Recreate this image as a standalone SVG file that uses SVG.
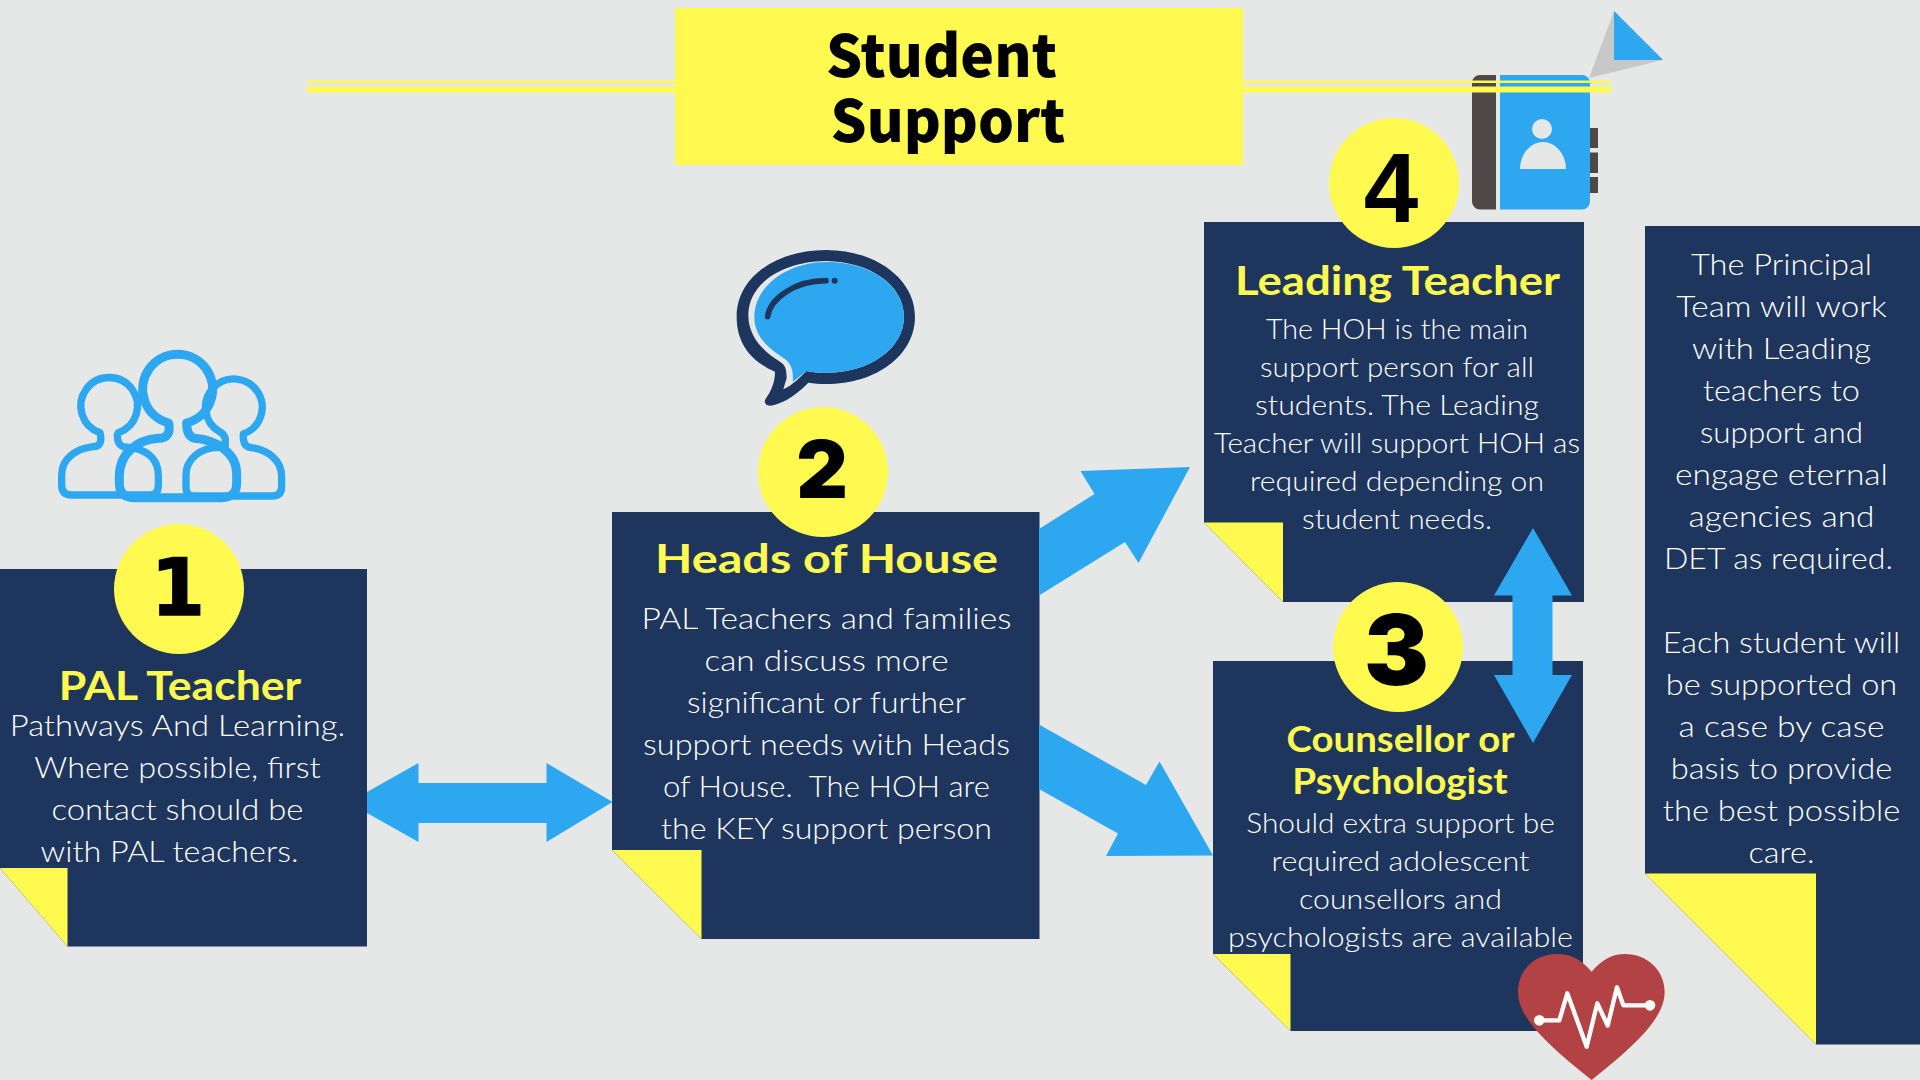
<svg xmlns="http://www.w3.org/2000/svg" width="1920" height="1080" viewBox="0 0 1920 1080">
<style>
.navy{fill:#1e365d}.yel{fill:#fff950}.blue{fill:#2ca7f0}
text{text-anchor:middle;font-family:"Lato","Liberation Sans",sans-serif}
.b{fill:#fff;font-size:30px;font-weight:300}
.s{fill:#fff;font-size:27.5px;font-weight:300}
.h{fill:#fff950;font-size:41px;font-weight:700}
.h2{fill:#fff950;font-size:35.5px;font-weight:700}
.n{fill:#000;font-family:"DejaVu Sans",sans-serif;font-weight:700;font-size:78px;stroke:#000;stroke-width:1.5px}
.n4{fill:#000;font-family:"Liberation Sans",sans-serif;font-weight:700;font-size:98px}
.m{fill:#000;font-family:"Inter",sans-serif;font-weight:900}
.t{fill:#000;font-family:"Noto Sans CJK SC",sans-serif;font-weight:900;font-size:58px}
.ic{fill:none;stroke:#2ca7f0;stroke-width:22;stroke-linecap:round;stroke-linejoin:round}
</style>
<rect width="1920" height="1080" fill="#e6e8e8"/>

<g id="flag-icon">
<polygon points="1614,11 1589,78 1663,60" fill="#c8c8c8"/>
<polygon class="blue" points="1614,11 1614,60 1663,60"/>
</g>
<g id="book-icon">
<path fill="#4f4848" d="M1496,75H1480a8,8 0 0 0 -8,8V201a8,8 0 0 0 8,8.500H1496Z"/>
<path class="blue" d="M1500,75H1582a8,8 0 0 1 8,8V201a8,8 0 0 1 -8,8.500H1500Z"/>
<rect x="1590" y="128" width="8" height="20" fill="#4f4848"/>
<rect x="1590" y="152.500" width="8" height="20.500" fill="#4f4848"/>
<rect x="1590" y="177" width="8" height="16" fill="#4f4848"/>
<circle cx="1542" cy="129" r="10" fill="#e6e8e8"/>
<path fill="#e6e8e8" d="M1520,169a23,27 0 0 1 46,0Z"/>
</g>

<g id="title-rules">
<rect class="yel" x="307" y="80.500" width="1304" height="2.500"/>
<rect class="yel" x="307" y="86.500" width="1304" height="6"/>
</g>
<g id="title">
<rect class="yel" x="675" y="8" width="568" height="157"/>
<text class="t" x="941.500" y="76.500" textLength="231" lengthAdjust="spacingAndGlyphs">Student</text>
<text class="t" x="948" y="141.500" textLength="235" lengthAdjust="spacingAndGlyphs">Support</text>
</g>

<g id="people-icon" transform="translate(40,330) scale(.3333)">
<path class="ic" d="M235,308A85,85 0 1 0 180,308Q190,350 160,350C110,355 65,385 65,435V465Q65,495 95,495H330Q355,495 355,465V435C355,395 330,365 285,355L250,350Q232,345 232,315Z"/>
<path class="ic" d="M556,345V325Q550,310 540,306A85,85 0 1 1 610,312Q608,350 630,352C685,360 725,390 725,440V470Q725,498 695,498H460Q438,498 438,470V435C438,390 480,350 540,352"/>
<path class="ic" style="stroke-width:27" d="M440,279A105,105 0 1 0 386,279Q395,325 355,325C290,330 238,370 238,440V460Q238,503 285,503H545Q590,503 590,460V430C590,370 530,330 465,325Q440,320 440,279Z"/>
</g>

<g id="speech-icon" transform="translate(720,230) scale(.3333)">
<path class="navy" d="M165,425C60,380 50,300 50,260C50,140 170,60 318,60C465,60 585,145 585,260C585,375 470,462 318,462C300,462 280,460 265,458C220,505 175,525 150,527C135,527 130,515 138,505C155,480 165,455 165,425Z"/>
<path fill="#e6e8e8" d="M318,93C180,95 85,165 85,255C85,320 130,365 180,395C195,405 200,415 200,445L190,478C220,465 240,440 260,423C280,428 300,428 318,428C450,428 552,355 552,260C552,165 450,95 318,93Z"/>
<path class="blue" d="M320,96C200,96 103,170 103,262C103,310 135,350 185,380C210,395 222,415 218,455L260,423C280,428 300,428 318,428C450,428 552,355 552,260C552,165 450,96 320,96Z"/>
<path fill="none" stroke="#1e365d" stroke-width="17" stroke-linecap="round" d="M143,260C150,205 225,152 318,152"/>
<circle class="navy" cx="344" cy="152" r="9"/>
</g>

<g id="node-1">
<polygon class="navy" points="0,569 367,569 367,946.500 67.500,946.500 0,868"/>
<polygon class="yel" points="0,868 67.500,868 67.500,946.500"/>
<text class="h" x="180" y="700" textLength="242.500" lengthAdjust="spacingAndGlyphs">PAL Teacher</text>
<text class="b" x="177.500" y="736" textLength="335.500" lengthAdjust="spacingAndGlyphs">Pathways And Learning.</text>
<text class="b" x="177.500" y="778" textLength="286.500" lengthAdjust="spacingAndGlyphs">Where possible, first</text>
<text class="b" x="177.500" y="820" textLength="252" lengthAdjust="spacingAndGlyphs">contact should be</text>
<text class="b" x="169.500" y="862" textLength="258" lengthAdjust="spacingAndGlyphs">with PAL teachers.</text>
</g>

<g id="node-2">
<polygon class="navy" points="612,512 1039.500,512 1039.500,939 701.500,939 612,850"/>
<polygon class="yel" points="612,850 701.500,850 701.500,939"/>
<text class="h" x="826.500" y="573" textLength="343" lengthAdjust="spacingAndGlyphs">Heads of House</text>
<text class="b" x="826.500" y="628.500" textLength="370" lengthAdjust="spacingAndGlyphs">PAL Teachers and families</text>
<text class="b" x="826.500" y="670.500" textLength="244" lengthAdjust="spacingAndGlyphs">can discuss more</text>
<text class="b" x="826.500" y="713" textLength="279" lengthAdjust="spacingAndGlyphs">significant or further</text>
<text class="b" x="826.500" y="755" textLength="367" lengthAdjust="spacingAndGlyphs">support needs with Heads</text>
<text class="b" x="826.500" y="797" textLength="327" lengthAdjust="spacingAndGlyphs" xml:space="preserve">of House.  The HOH are</text>
<text class="b" x="826.500" y="839" textLength="331" lengthAdjust="spacingAndGlyphs">the KEY support person</text>
</g>

<g id="node-4">
<polygon class="navy" points="1204,222 1584,222 1584,602 1283,602 1204,522.500"/>
<polygon class="yel" points="1204,522.500 1283,522.500 1283,602"/>
<text class="h" x="1397.500" y="295" textLength="325" lengthAdjust="spacingAndGlyphs">Leading Teacher</text>
<text class="s" x="1397" y="339" textLength="262" lengthAdjust="spacingAndGlyphs">The HOH is the main</text>
<text class="s" x="1397" y="377" textLength="274" lengthAdjust="spacingAndGlyphs">support person for all</text>
<text class="s" x="1397" y="415" textLength="284" lengthAdjust="spacingAndGlyphs">students. The Leading</text>
<text class="s" x="1397" y="453" textLength="366" lengthAdjust="spacingAndGlyphs">Teacher will support HOH as</text>
<text class="s" x="1397" y="491" textLength="294" lengthAdjust="spacingAndGlyphs">required depending on</text>
<text class="s" x="1397" y="529" textLength="190" lengthAdjust="spacingAndGlyphs">student needs.</text>
</g>

<g id="node-3">
<polygon class="navy" points="1213,661 1583,661 1583,1031 1290.500,1031 1213,954"/>
<polygon class="yel" points="1213,954 1290.500,954 1290.500,1031"/>
<text class="h2" x="1400.500" y="752" textLength="228" lengthAdjust="spacingAndGlyphs">Counsellor or</text>
<text class="h2" x="1400" y="793.500" textLength="215.500" lengthAdjust="spacingAndGlyphs">Psychologist</text>
<text class="s" x="1400.500" y="833" textLength="308.500" lengthAdjust="spacingAndGlyphs">Should extra support be</text>
<text class="s" x="1400.500" y="871" textLength="258" lengthAdjust="spacingAndGlyphs">required adolescent</text>
<text class="s" x="1400.500" y="908.500" textLength="203" lengthAdjust="spacingAndGlyphs">counsellors and</text>
<text class="s" x="1400.500" y="946.500" textLength="345" lengthAdjust="spacingAndGlyphs">psychologists are available</text>
</g>

<g id="node-principal">
<polygon class="navy" points="1645,226 1920,226 1920,1044.500 1816,1044.500 1645,873.500"/>
<polygon class="yel" points="1645,873.500 1816,873.500 1816,1044.500"/>
<text class="b" x="1781.500" y="275" textLength="181" lengthAdjust="spacingAndGlyphs">The Principal</text>
<text class="b" x="1781.500" y="316.500" textLength="210.500" lengthAdjust="spacingAndGlyphs">Team will work</text>
<text class="b" x="1781.500" y="358.500" textLength="179" lengthAdjust="spacingAndGlyphs">with Leading</text>
<text class="b" x="1781.500" y="401" textLength="157" lengthAdjust="spacingAndGlyphs">teachers to</text>
<text class="b" x="1781.500" y="442.500" textLength="163" lengthAdjust="spacingAndGlyphs">support and</text>
<text class="b" x="1781.500" y="484.500" textLength="213" lengthAdjust="spacingAndGlyphs">engage eternal</text>
<text class="b" x="1781.500" y="527" textLength="186" lengthAdjust="spacingAndGlyphs">agencies and</text>
<text class="b" x="1778.500" y="569" textLength="229" lengthAdjust="spacingAndGlyphs">DET as required.</text>
<text class="b" x="1781.500" y="653" textLength="237.500" lengthAdjust="spacingAndGlyphs">Each student will</text>
<text class="b" x="1781.500" y="695" textLength="231.500" lengthAdjust="spacingAndGlyphs">be supported on</text>
<text class="b" x="1781.500" y="737" textLength="206" lengthAdjust="spacingAndGlyphs">a case by case</text>
<text class="b" x="1781.500" y="778.500" textLength="221.500" lengthAdjust="spacingAndGlyphs">basis to provide</text>
<text class="b" x="1781.500" y="820.500" textLength="237.500" lengthAdjust="spacingAndGlyphs">the best possible</text>
<text class="b" x="1781.500" y="863" textLength="66" lengthAdjust="spacingAndGlyphs">care.</text>
</g>

<g id="heart-icon" transform="translate(1480,930) scale(.3333)">
<path fill="#b24243" d="M335,125C300,85 270,72 230,72C165,72 114,120 114,185C114,250 170,320 335,450C500,320 554,250 554,185C554,120 500,72 435,72C395,72 365,90 335,125Z"/>
<path fill="none" stroke="#fff" stroke-width="13" stroke-linejoin="round" d="M178,271H238L262,190L320,350L352,220L383,287L411,172L430,226H510"/>
<circle cx="178" cy="271" r="16" fill="#fff"/>
<circle cx="510" cy="226" r="16" fill="#fff"/>
</g>

<g id="connectors">
<polygon class="blue" points="367,792 418.500,763 418.500,783 546.500,783 546.500,763 612.500,802 546.500,842 546.500,823 418.500,823 418.500,842 367,813"/>
<polygon class="blue" points="1039,529 1094.500,494 1080.500,471 1190,467 1138.500,563 1125,542 1039,595.500"/>
<polygon class="blue" points="1039,724.500 1146,785 1159.500,761.500 1213,855.500 1106,856 1118,833.500 1039,789"/>
<polygon class="blue" points="1533,528 1572,595.500 1552.500,595.500 1552.500,675 1572,675 1533,743 1494,675 1512.500,675 1512.500,595.500 1494,595.500"/>
</g>

<g id="badge-1"><circle class="yel" cx="179" cy="589" r="65"/><text class="n" x="178" y="615">1</text></g>
<g id="badge-2"><circle class="yel" cx="823" cy="472" r="65"/><text class="m" style="font-size:80px" x="822" y="498">2</text></g>
<g id="badge-4"><circle class="yel" cx="1394" cy="183" r="65"/><text class="n4" x="1391" y="222">4</text></g>
<g id="badge-3"><circle class="yel" cx="1398" cy="647" r="65"/><text class="m" style="font-size:97px" x="1396.500" y="685">3</text></g>
</svg>
